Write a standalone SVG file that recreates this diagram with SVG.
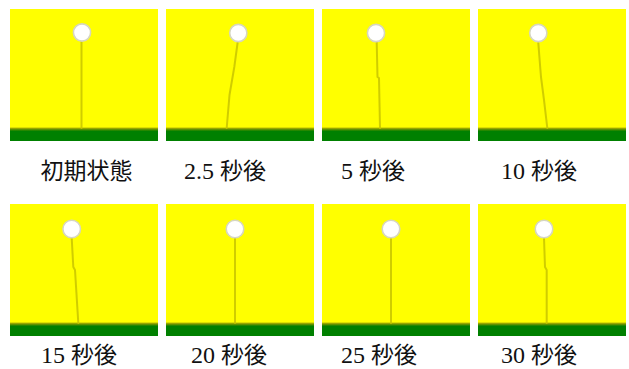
<svg xmlns="http://www.w3.org/2000/svg" xmlns:xlink="http://www.w3.org/1999/xlink" width="629" height="369" viewBox="0 0 629 369">
  <defs>
    <style>
      .stalk { fill: none; stroke: #c8c400; stroke-width: 2; stroke-linejoin: round; stroke-linecap: round; opacity: 0.85; }
      .head { fill: #ffffff; stroke: #d6d6c0; stroke-width: 1.6; }
      .label { font-family: "Liberation Serif", "Noto Sans CJK JP", serif; font-size: 24px; fill: #111111; }
      .cjk { font-family: "Noto Sans CJK JP", sans-serif; font-size: 23px; }
    </style>
    <linearGradient id="groundFade" x1="0" y1="0" x2="0" y2="1">
      <stop offset="0" stop-color="#ffff00"/>
      <stop offset="0.12" stop-color="#8a9a00"/>
      <stop offset="0.3" stop-color="#008000"/>
      <stop offset="1" stop-color="#008000"/>
    </linearGradient>
    <!-- one panel: yellow field with a green ground strip -->
    <g id="field">
      <rect x="0" y="0" width="148" height="132" fill="#ffff00"/>
      <rect x="0" y="118" width="148" height="14" fill="url(#groundFade)"/>
    </g>
    <filter id="soft" x="-10%" y="-10%" width="120%" height="120%">
      <feGaussianBlur stdDeviation="0.5"/>
    </filter>
  </defs>

  <g id="panel-0">
    <use xlink:href="#field" x="10" y="9"/>
    <g filter="url(#soft)">
      <polyline class="stalk" points="81.5,42 81.5,128"/>
      <circle class="head" cx="82" cy="32.5" r="8.6"/>
    </g>
    <text class="label" x="40.5" y="179"><tspan class="cjk">初期状態</tspan></text>
  </g>

  <g id="panel-2-5">
    <use xlink:href="#field" x="166" y="9"/>
    <g filter="url(#soft)">
      <polyline class="stalk" points="237.7,42 234.3,67 229.5,95 226.7,128"/>
      <circle class="head" cx="238.3" cy="33" r="8.6"/>
    </g>
    <text class="label" x="184" y="179">2.5 <tspan class="cjk">秒後</tspan></text>
  </g>

  <g id="panel-5">
    <use xlink:href="#field" x="322" y="9"/>
    <g filter="url(#soft)">
      <polyline class="stalk" points="376.7,42 377.5,77 379,78 380,128"/>
      <circle class="head" cx="376" cy="33" r="8.6"/>
    </g>
    <text class="label" x="341" y="179">5 <tspan class="cjk">秒後</tspan></text>
  </g>

  <g id="panel-10">
    <use xlink:href="#field" x="478" y="9"/>
    <g filter="url(#soft)">
      <polyline class="stalk" points="538.3,43 541,77 544,100 547.3,128"/>
      <circle class="head" cx="538.3" cy="33" r="8.6"/>
    </g>
    <text class="label" x="501" y="179">10 <tspan class="cjk">秒後</tspan></text>
  </g>

  <g id="panel-15">
    <use xlink:href="#field" x="10" y="204"/>
    <g filter="url(#soft)">
      <polyline class="stalk" points="71.7,238 73.3,267 75,270 78.3,323"/>
      <circle class="head" cx="71.7" cy="229" r="8.8"/>
    </g>
    <text class="label" x="41" y="363">15 <tspan class="cjk">秒後</tspan></text>
  </g>

  <g id="panel-20">
    <use xlink:href="#field" x="166" y="204"/>
    <g filter="url(#soft)">
      <polyline class="stalk" points="235,238 235,323"/>
      <circle class="head" cx="235" cy="229" r="8.8"/>
    </g>
    <text class="label" x="191" y="363">20 <tspan class="cjk">秒後</tspan></text>
  </g>

  <g id="panel-25">
    <use xlink:href="#field" x="322" y="204"/>
    <g filter="url(#soft)">
      <polyline class="stalk" points="391,238 391,323"/>
      <circle class="head" cx="391" cy="229" r="8.8"/>
    </g>
    <text class="label" x="341" y="363">25 <tspan class="cjk">秒後</tspan></text>
  </g>

  <g id="panel-30">
    <use xlink:href="#field" x="478" y="204"/>
    <g filter="url(#soft)">
      <polyline class="stalk" points="544,238 545,267 546.7,270 546.7,323"/>
      <circle class="head" cx="544" cy="229" r="8.8"/>
    </g>
    <text class="label" x="501" y="363">30 <tspan class="cjk">秒後</tspan></text>
  </g>

  <g id="connectors"/>
</svg>
